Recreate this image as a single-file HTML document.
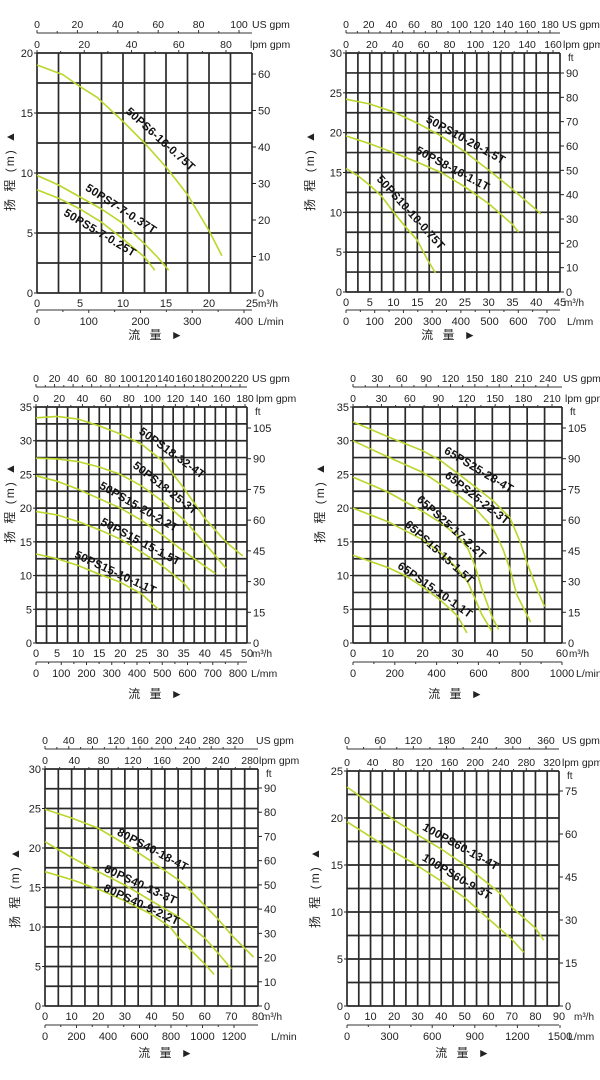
<!DOCTYPE html>
<html><head><meta charset="utf-8">
<style>
html,body{margin:0;padding:0;background:#fff;width:600px;height:1080px;overflow:hidden}
svg{display:block;font-family:"Liberation Sans","Noto Sans CJK SC",sans-serif}
</style></head>
<body>
<svg id="root" width="600" height="1080" viewBox="0 0 600 1080"></svg>
<script>
// ---- data (flow m³/h, head m) ----
const c1_ps6_16 = [[0,19],[3,18.2],[5,17.2],[7,16.3],[10,14.3],[12.5,12.5],[15,10.5],[17.5,8.2],[20,5.2],[21.5,3.1]];
const c1_ps7_7 = [[0,9.8],[2.5,9],[5,8],[7.5,7],[10,5.8],[12.5,4.1],[14,3],[15.3,1.9]];
const c1_ps5_7 = [[0,8.6],[2.5,7.9],[5,7],[7.5,5.9],[10,4.5],[12.5,3],[13.7,1.9]];
const c2_ps10_20 = [[0,24.2],[5,23.6],[10,22.6],[15,21.2],[20,19.6],[25,17.6],[30,15.3],[35,12.9],[41,9.8]];
const c2_ps8_16 = [[0,19.6],[5,18.6],[10,17.5],[15,16.3],[20,15],[25,13.2],[30,11.1],[35,8.5],[36.3,7.5]];
const c2_ps10_10 = [[0,15.5],[2.5,14.6],[5,13.4],[7.5,12],[10,10],[12.5,8.2],[15,6.5],[17,4.2],[18.8,2.4]];
const c3_ps18_32 = [[0,33.4],[5,33.6],[10,33.2],[15,32.2],[20,31],[25,29.5],[30,27],[35,23],[40,18.5],[45,15],[49,12.9]];
const c3_ps18_25 = [[0,27.4],[5,27.3],[10,26.9],[15,26.1],[20,25],[25,23.3],[30,21],[35,18.3],[40,14.8],[45,11.1]];
const c3_ps15_20 = [[0,24.8],[5,24],[10,22.8],[15,21.4],[20,20],[25,18.2],[30,16],[35,13.6],[42.5,10.3]];
const c3_ps15_15 = [[0,19.5],[5,19],[10,18],[15,16.8],[20,15.4],[25,13.5],[30,11.4],[35,8.9],[36.5,7.8]];
const c3_ps15_10 = [[0,13.2],[5,12.5],[10,11.5],[15,10.2],[20,9],[25,7.3],[29,5]];
const c4_ps25_28 = [[0,32.8],[10,30.6],[20,28.5],[25,27.1],[30,25.2],[35,23.2],[40,21.2],[45,18.6],[48,15],[50,11.8],[53,7.8],[55,5.4]];
const c4_ps25_22 = [[0,30],[10,27.6],[20,25.3],[25,23.6],[30,22],[35,20],[40,17.2],[43,14],[45,11],[47,7.2],[51,3.1]];
const c4_ps25_17 = [[0,24.6],[10,22.4],[20,19.5],[25,17.9],[30,15.9],[33,14],[35,11.5],[37,8],[40,3.8],[41.8,2]];
const c4_ps15_15 = [[0,20],[10,18],[20,15.3],[25,13.5],[30,11],[33,9],[35,6.6],[37,4.2],[39.8,1.8]];
const c4_ps15_10 = [[0,13],[10,11.2],[15,10],[20,8.3],[25,6.4],[30,4],[32.7,1.5]];
const c5_ps40_18 = [[0,24.9],[10,23.8],[20,22.5],[30,20.5],[40,18.3],[50,16],[55,14.5],[60,12.7],[65,11],[70,9],[75,7.3],[78.3,6.2]];
const c5_ps40_13 = [[0,20.8],[10,18.8],[20,17],[30,15.3],[40,13.3],[50,11.3],[55,10],[60,8.6],[65,6.7],[70,4.7]];
const c5_ps40_9 = [[0,17],[10,16],[20,14.8],[30,13.3],[40,11.6],[47,10],[50,8.7],[55,7],[60,5.3],[63.5,4]];
const c6_ps60_13 = [[0,23.3],[10,21.5],[20,19.8],[30,18.2],[40,16.7],[50,15],[60,13],[65,12],[70,10.5],[80,8.3],[83.5,7]];
const c6_ps60_9 = [[0,19.6],[10,18],[20,16.4],[30,14.9],[40,13.3],[50,11.5],[60,9.3],[70,7.1],[75,5.7]];
// tick labels
const c1_us = [0,20,40,60,80,100], c1_lpm = [0,20,40,60,80], c1_lmin = [0,100,200,300,400], c1_ft = [0,10,20,30,40,50,60];
const c2_us = [0,20,40,60,80,100,120,140,160,180], c2_lpm = [0,20,40,60,80,100,120,140,160], c2_lmin = [0,100,200,300,400,500,600,700], c2_ft = [0,10,20,30,40,50,60,70,80,90];
const c3_us = [0,20,40,60,80,100,120,140,160,180,200,220], c3_lpm = [0,20,40,60,80,100,120,140,160,180], c3_lmin = [0,100,200,300,400,500,600,700,800], c3_ft = [0,15,30,45,60,75,90,105];
const c4_us = [0,30,60,90,120,150,180,210,240], c4_lpm = [0,30,60,90,120,150,180,210], c4_lmin = [0,200,400,600,800,1000], c4_ft = [0,15,30,45,60,75,90,105];
const c5_us = [0,40,80,120,160,200,240,280,320], c5_lpm = [0,40,80,120,160,200,240,280], c5_lmin = [0,200,400,600,800,1000,1200], c5_ft = [0,10,20,30,40,50,60,70,80,90];
const c6_us = [0,60,120,180,240,300,360], c6_lpm = [0,40,80,120,160,200,240,280,320], c6_lmin = [0,300,600,900,1200,1500], c6_ft = [0,15,30,45,60,75];

const NS = "http://www.w3.org/2000/svg";
const root = document.getElementById('root');
function mk(tag, attrs, parent, txt){
  const e = document.createElementNS(NS, tag);
  for (const k in attrs) e.setAttribute(k, attrs[k]);
  if (txt !== undefined) e.textContent = txt;
  (parent||root).appendChild(e);
  return e;
}
function txt(x,y,s,parent,anchor,size){
  const t = mk('text',{x:x,y:y,'font-size':size||10.5,fill:'#222','text-anchor':anchor||'middle'},parent,s);
  return t;
}

function chart(c){
  const g = mk('g',{});
  
  
  const X = v => c.l + v*(c.r-c.l)/c.xMax;
  const Y = v => c.b - v*(c.b-c.t)/c.yMax;
  // grid
  const grid = mk('g',{stroke:'#2a2a2a','stroke-width':1.7},g);
  
  
  for (let v=0; v<=c.xMax+1e-6; v+=c.xGrid) mk('line',{x1:X(v),x2:X(v),y1:c.t,y2:c.b},grid);
  for (let v=0; v<=c.yMax+1e-6; v+=2.5) mk('line',{x1:c.l,x2:c.r,y1:Y(v),y2:Y(v)},grid);
  // y ticks
  const ya = mk('g',{},g);
  
  
  for (let v=0; v<=c.yMax+1e-6; v+=5){ txt(c.l-4,Y(v)+4,String(v),ya,'end',11); mk('line',{x1:c.l-3,x2:c.l,y1:Y(v),y2:Y(v),stroke:'#222'},ya); }
  // x ticks m3/h
  const xa = mk('g',{},g);
  
  
  for (let v=0; v<=c.xMax+1e-6; v+=c.xLab){ txt(X(v),c.b+14,String(v),xa,'middle',11); }
  txt(c.m3x,c.b+14,'m³/h',xa,'start',10);
  // US gpm axis
  const ua = mk('g',{},g);
  
  
  const U = v => c.l + v*(c.usEnd-c.l)/c.us[c.us.length-1];
  mk('line',{x1:c.l,x2:c.r,y1:c.usY,y2:c.usY,stroke:'#333','stroke-width':1},ua);
  c.us.forEach((v,i)=>{ txt(U(v),c.usY-5,String(v),ua,'middle',10.5); mk('line',{x1:U(v),x2:U(v),y1:c.usY-3,y2:c.usY,stroke:'#333'},ua);
    if(i<c.us.length-1){const m=(U(v)+U(c.us[i+1]))/2; mk('line',{x1:m,x2:m,y1:c.usY-2,y2:c.usY,stroke:'#333'},ua);} });
  txt(c.usUx,c.usY-5,'US gpm',ua,'start',10.5);
  // lpm axis
  const la = mk('g',{},g);
  
  
  const Lp = v => c.l + v*(c.lpmEnd-c.l)/c.lpm[c.lpm.length-1];
  c.lpm.forEach((v,i)=>{ txt(Lp(v),c.t-5,String(v),la,'middle',10.5); mk('line',{x1:Lp(v),x2:Lp(v),y1:c.t-3,y2:c.t,stroke:'#333'},la);
    if(i<c.lpm.length-1){const m=(Lp(v)+Lp(c.lpm[i+1]))/2; mk('line',{x1:m,x2:m,y1:c.t-2,y2:c.t,stroke:'#333'},la);} });
  txt(c.lpmUx,c.t-5,'lpm gpm',la,'start',10.5);
  // L/min axis
  const lm = mk('g',{},g);
  
  
  const LM = v => c.l + v*(c.lEnd-c.l)/c.lmin[c.lmin.length-1];
  mk('line',{x1:c.l,x2:c.r,y1:c.lY,y2:c.lY,stroke:'#333','stroke-width':1},lm);
  c.lmin.forEach((v,i)=>{ txt(LM(v),c.lY+15,String(v),lm,'middle',11); mk('line',{x1:LM(v),x2:LM(v),y1:c.lY,y2:c.lY+3,stroke:'#333'},lm);
    if(i<c.lmin.length-1){const m=(LM(v)+LM(c.lmin[i+1]))/2; mk('line',{x1:m,x2:m,y1:c.lY,y2:c.lY+2,stroke:'#333'},lm);} });
  txt(c.lUx,c.lY+15,c.lUnit,lm,'start',10.5);
  // ft axis
  const fa = mk('g',{},g);
  
  
  const F = v => c.b - v*(c.b-c.ftTop)/c.ft[c.ft.length-1];
  c.ft.forEach(v=>{ mk('line',{x1:c.r,x2:c.r+4,y1:F(v),y2:F(v),stroke:'#222'},fa); txt(c.r+6,F(v)+4,String(v),fa,'start',11); });
  if (c.ftLabel) txt(c.r+8,c.t+8,'ft',fa,'start',10);
  // curves
  c.series.forEach(s=>{
    const p = mk('path',{d:s.data.map((q,i)=>(i?'L':'M')+X(q[0]).toFixed(1)+','+Y(q[1]).toFixed(1)).join(' '),fill:'none',stroke:'#bcd52a','stroke-width':1.6,'stroke-linejoin':'round'},g);
    
    
    const t = mk('text',{x:0,y:0,'font-size':11.5,'font-weight':'bold',fill:'#111','text-anchor':'middle',transform:`translate(${s.lx},${s.ly}) rotate(${s.a})`,'letter-spacing':'0.3'},g,s.label);
    
    
  });
  // axis titles
  const yt = mk('text',{x:0,y:0,'font-size':12,fill:'#222','text-anchor':'middle',transform:`translate(${c.ytx},${c.yty}) rotate(-90)`,'letter-spacing':'2'},g,'扬 程 (m) ▲');
  
  
  const xt = mk('text',{x:c.xtx,y:c.xty,'font-size':12,fill:'#222','text-anchor':'middle','letter-spacing':'3'},g,'流 量 ►');
  
  
}

chart({name:'chart-50ps-small',l:37,r:252,t:53,b:293,xMax:25,yMax:20,xGrid:2.5,xLab:5,
  us:c1_us,usEnd:239,usY:33,usUx:252,lpm:c1_lpm,lpmEnd:226,lpmUx:250,
  lmin:c1_lmin,lEnd:244,lY:310,lUnit:'L/min',lUx:258,m3x:258,ft:c1_ft,ftTop:74,ftLabel:false,
  ytx:14,yty:170,xtx:157,xty:339,
  series:[{data:c1_ps6_16,label:'50PS6-16-0.75T',lx:158,ly:142,a:42},
          {data:c1_ps7_7,label:'50PS7-7-0.37T',lx:119,ly:212,a:33},
          {data:c1_ps5_7,label:'50PS5-7-0.25T',lx:98,ly:236,a:31}]});
chart({name:'chart-50ps-medium',l:346,r:560,t:53,b:292,xMax:45,yMax:30,xGrid:2.5,xLab:5,
  us:c2_us,usEnd:550,usY:33,usUx:562,lpm:c2_lpm,lpmEnd:553,lpmUx:563,
  lmin:c2_lmin,lEnd:547,lY:310,lUnit:'L/mm',lUx:567,m3x:564,ft:c2_ft,ftTop:73,ftLabel:true,
  ytx:314,yty:170,xtx:450,xty:339,
  series:[{data:c2_ps10_20,label:'50PS10-20-1.5T',lx:464,ly:143,a:29},
          {data:c2_ps8_16,label:'50PS8-16-1.1T',lx:451,ly:172,a:28},
          {data:c2_ps10_10,label:'50PS10-10-0.75T',lx:408,ly:215,a:48}]});
chart({name:'chart-50ps-large',l:36,r:247,t:407,b:643,xMax:50,yMax:35,xGrid:2.5,xLab:5,
  us:c3_us,usEnd:240,usY:387,usUx:252,lpm:c3_lpm,lpmEnd:245,lpmUx:256,
  lmin:c3_lmin,lEnd:238,lY:662,lUnit:'L/mm',lUx:251,m3x:252,ft:c3_ft,ftTop:428,ftLabel:true,
  ytx:14,yty:502,xtx:157,xty:698,
  series:[{data:c3_ps18_32,label:'50PS18-32-4T',lx:170,ly:456,a:36},
          {data:c3_ps18_25,label:'50PS18-25-3T',lx:163,ly:491,a:38},
          {data:c3_ps15_20,label:'50PS15-20-2.2T',lx:137,ly:510,a:30},
          {data:c3_ps15_15,label:'50PS15-15-1.5T',lx:139,ly:545,a:28},
          {data:c3_ps15_10,label:'50PS15-10-1.1T',lx:114,ly:576,a:25}]});
chart({name:'chart-65ps',l:353,r:562,t:407,b:643,xMax:60,yMax:35,xGrid:5,xLab:10,
  us:c4_us,usEnd:548,usY:387,usUx:563,lpm:c4_lpm,lpmEnd:552,lpmUx:565,
  lmin:c4_lmin,lEnd:562,lY:662,lUnit:'L/min',lUx:576,m3x:569,ft:c4_ft,ftTop:428,ftLabel:true,
  ytx:324,yty:502,xtx:457,xty:698,
  series:[{data:c4_ps25_28,label:'65PS25-28-4T',lx:477,ly:473,a:31},
          {data:c4_ps25_22,label:'65PS25-22-3T',lx:475,ly:501,a:38},
          {data:c4_ps25_17,label:'65PS25-17-2.2T',lx:449,ly:530,a:42},
          {data:c4_ps15_15,label:'65PS15-15-1.5T',lx:437,ly:555,a:42},
          {data:c4_ps15_10,label:'65PS15-10-1.1T',lx:433,ly:593,a:35}]});
chart({name:'chart-80ps',l:45,r:258,t:769,b:1006,xMax:80,yMax:30,xGrid:5,xLab:10,
  us:c5_us,usEnd:235,usY:749,usUx:256,lpm:c5_lpm,lpmEnd:250,lpmUx:259,
  lmin:c5_lmin,lEnd:234,lY:1025,lUnit:'L/min',lUx:271,m3x:262,ft:c5_ft,ftTop:788,ftLabel:true,
  ytx:19,yty:887,xtx:167,xty:1057,
  series:[{data:c5_ps40_18,label:'80PS40-18-4T',lx:151,ly:853,a:28},
          {data:c5_ps40_13,label:'80PS40-13-3T',lx:139,ly:888,a:25},
          {data:c5_ps40_9,label:'80PS40-9-2.2T',lx:140,ly:908,a:25}]});
chart({name:'chart-100ps',l:347,r:559,t:771,b:1006,xMax:90,yMax:25,xGrid:5,xLab:10,
  us:c6_us,usEnd:546,usY:749,usUx:562,lpm:c6_lpm,lpmEnd:552,lpmUx:562,
  lmin:c6_lmin,lEnd:560,lY:1025,lUnit:'L/mm',lUx:568,m3x:574,ft:c6_ft,ftTop:791,ftLabel:true,
  ytx:319,yty:887,xtx:464,xty:1057,
  series:[{data:c6_ps60_13,label:'100PS60-13-4T',lx:459,ly:850,a:29},
          {data:c6_ps60_9,label:'100PS60-9-3T',lx:455,ly:880,a:31}]});
</script>
</body></html>
